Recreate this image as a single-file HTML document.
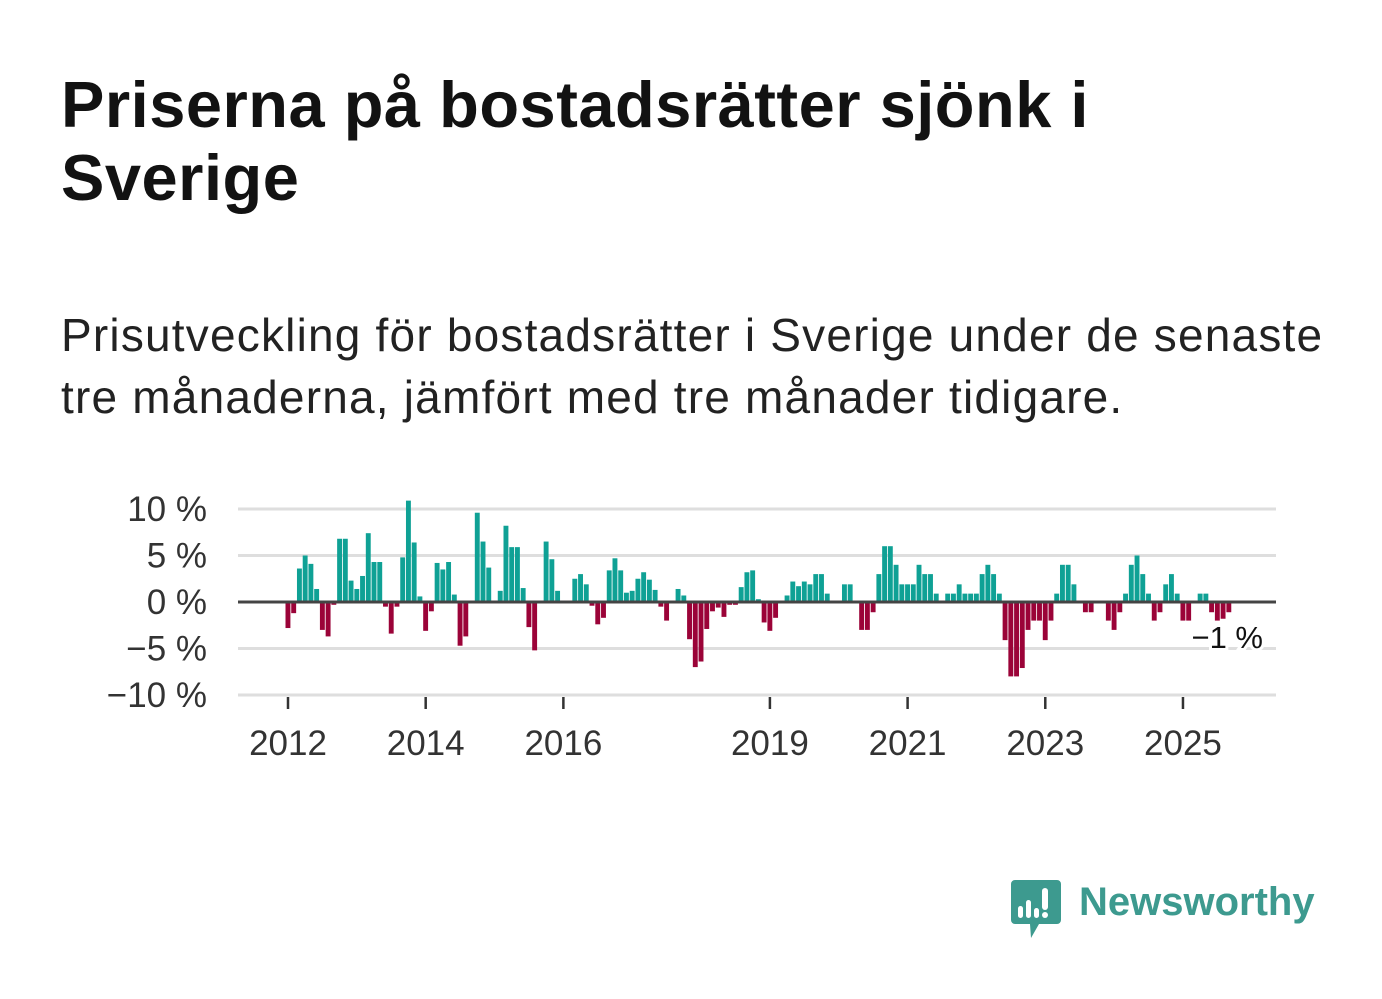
<!DOCTYPE html>
<html><head><meta charset="utf-8">
<style>
html,body{margin:0;padding:0;background:#fff;}
body{width:1382px;height:999px;position:relative;overflow:hidden;font-family:"Liberation Sans","DejaVu Sans",sans-serif;color:#111;}
#title{position:absolute;left:61px;top:68px;margin:0;font-size:65px;line-height:73px;font-weight:bold;color:#121212;width:1300px;white-space:nowrap;letter-spacing:0.5px;}
#subtitle{position:absolute;left:61px;top:304px;margin:0;font-size:46px;line-height:62px;color:#222;width:1320px;white-space:nowrap;letter-spacing:1.2px;}
svg{position:absolute;left:0;top:0;}
</style></head><body>
<h1 id="title">Priserna på bostadsrätter sjönk i<br>Sverige</h1>
<p id="subtitle">Prisutveckling för bostadsrätter i Sverige under de senaste<br>tre månaderna, jämfört med tre månader tidigare.</p>
<svg id="chart" width="1382" height="999"></svg>
<div style="position:absolute;left:1011px;top:880px;">
<svg width="52" height="60" viewBox="0 0 52 60" style="position:absolute;left:0;top:0;">
<path d="M4 0 H46 a4 4 0 0 1 4 4 V40 a4 4 0 0 1 -4 4 H28 L20 58 L19 44 H4 a4 4 0 0 1 -4 -4 V4 a4 4 0 0 1 4 -4 Z" fill="#3d9a8f"/>
<rect x="7" y="26" width="5" height="12" rx="2.5" fill="#fff"/><rect x="15" y="20" width="5" height="18" rx="2.5" fill="#fff"/><rect x="23" y="28" width="5" height="10" rx="2.5" fill="#fff"/><rect x="31" y="8" width="6" height="22" rx="3" fill="#fff"/><circle cx="34" cy="35" r="3" fill="#fff"/>
</svg>
<span style="position:absolute;left:68px;top:0px;font-size:40px;font-weight:bold;color:#3d9a8f;white-space:nowrap;">Newsworthy</span>
</div>
<script>
const values = [-2.8,-1.2,3.6,5.0,4.1,1.4,-3.0,-3.7,-0.3,6.8,6.8,2.3,1.4,2.8,7.4,4.3,4.3,-0.5,-3.4,-0.5,4.8,10.9,6.4,0.6,-3.1,-1.0,4.2,3.5,4.3,0.8,-4.7,-3.7,0,9.6,6.5,3.7,0,1.2,8.2,5.9,5.9,1.5,-2.7,-5.2,0,6.5,4.6,1.2,0,0,2.5,3.0,1.9,-0.4,-2.4,-1.7,3.4,
4.7,3.4,1.0,1.2,2.5,3.2,2.4,1.3,-0.5,-2.0,0,1.4,0.7,-4.0,-7.0,-6.4,-2.9,-1.0,-0.6,-1.6,-0.3,-0.3,1.6,3.2,3.4,0.3,-2.2,-3.1,-1.7,0,0.7,2.2,1.7,2.2,1.9,3.0,3.0,0.9,0,0,1.9,1.9,0,-3.0,-3.0,-1.1,3.0,6.0,6.0,4.0,1.9,1.9,1.9,4.0,3.0,3.0,
0.9,0,0.9,0.9,1.9,0.9,0.9,0.9,3.0,4.0,3.0,0.9,-4.1,-8.0,-8.0,-7.1,-3.0,-2.0,-2.0,-4.1,-2.0,0.9,4.0,4.0,1.9,0,-1.1,-1.1,0,0,-2.0,-3.0,-1.1,0.9,4.0,5.0,3.0,0.9,-2.0,-1.1,1.9,3.0,0.9,-2.0,-2.0,0,0.9,0.9,-1.1,-2.0,-1.8,-1.1];
const startYear = 2012;
const yTicks = [10,5,0,-5,-10];
const yTickLabels = ["10 %","5 %","0 %","\u22125 %","\u221210 %"];
const xTickYears = [2012,2014,2016,2019,2021,2023,2025];
const lastLabel = "\u22121 %";

const NS="http://www.w3.org/2000/svg";
const svg=document.getElementById('chart');
const L=238,R=1276;
function y(v){return 602 - v*9.3;}
function x(i){return 288 + i*5.737;}
function mk(t,a){const e=document.createElementNS(NS,t);for(const k in a)e.setAttribute(k,a[k]);svg.appendChild(e);return e;}
yTicks.forEach((t,k)=>{
  if(t!==0){const g=mk('line',{x1:L,x2:R,y1:y(t),y2:y(t),stroke:'#dedede','stroke-width':3});
  
  }
  const tx=mk('text',{x:207,y:y(t)+12,'text-anchor':'end','font-size':35,fill:'#333','font-family':'Liberation Sans, sans-serif'});
  
  
  tx.textContent=yTickLabels[k];
});
values.forEach((v,i)=>{
  const r=mk('rect',{x:x(i)-2.5,width:4.9,y:Math.min(y(v),y(0)),height:Math.abs(y(v)-y(0)),fill:v>=0?'#0fa195':'#9b0338'});
  
  
});
const z=mk('line',{x1:L,x2:R,y1:y(0),y2:y(0),stroke:'#444','stroke-width':3});


xTickYears.forEach(yr=>{
  const xi=x((yr-startYear)*12);
  const t=mk('line',{x1:xi,x2:xi,y1:697,y2:709,stroke:'#333','stroke-width':2.5});
  
  
  const tx=mk('text',{x:xi,y:755,'text-anchor':'middle','font-size':35,fill:'#333','font-family':'Liberation Sans, sans-serif'});
  
  
  tx.textContent=yr;
});
const ann=mk('text',{x:1263,y:648,'text-anchor':'end','font-size':31,fill:'#111',stroke:'#fff','stroke-width':6,'paint-order':'stroke','font-family':'Liberation Sans, sans-serif'});


ann.textContent=lastLabel;
</script>
</body></html>
